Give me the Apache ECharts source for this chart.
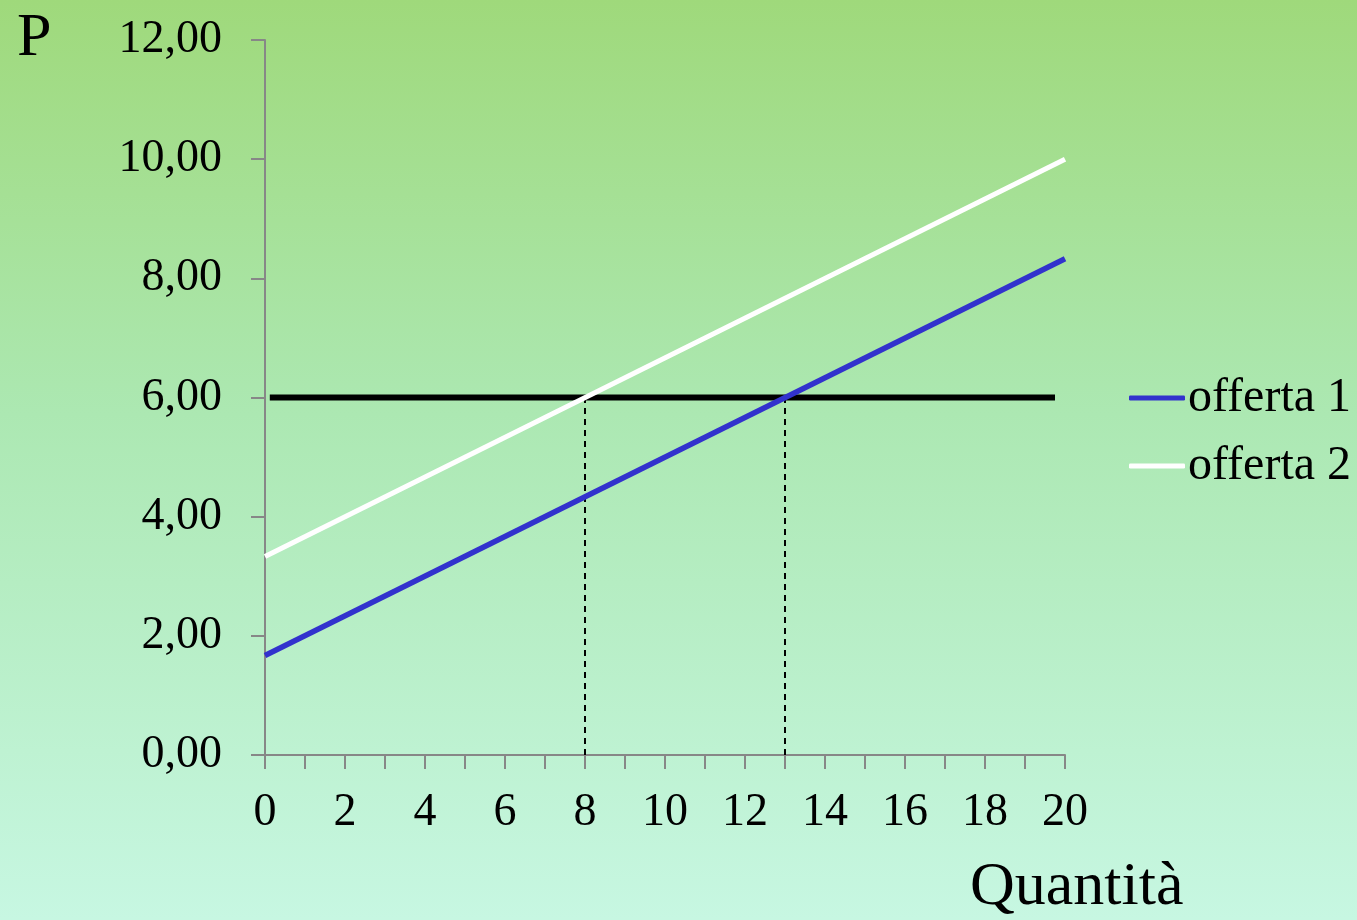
<!DOCTYPE html>
<html>
<head>
<meta charset="utf-8">
<script src="https://cdn.jsdelivr.net/npm/echarts@6/dist/echarts.min.js"></script>
<style>
  html, body { margin: 0; padding: 0; }
  #chart { width: 1357px; height: 920px; }
</style>
</head>
<body>
<div id="chart"></div>
<script>
// Supply curves: price P as a function of quantity
const offerta1 = [[0, 1.67], [20, 8.33]];
const offerta2 = [[0, 3.33], [20, 10]];
// Fixed market price
const prezzo = [[0.12, 6], [19.75, 6]];
// Quantities supplied at that price
const quantitaOfferta = [8, 13];
const prezzoFisso = 6;
const seriesNames = ['offerta 1', 'offerta 2'];
const yAxisTitle = 'P';
const xAxisTitle = 'Quantità';

const FONT = '"Liberation Serif", "Times New Roman", serif';

const dropLines = quantitaOfferta.map(q => ({
  type: 'line',
  data: [[q, 0], [q, prezzoFisso]],
  symbol: 'none',
  lineStyle: { color: '#000', width: 2, type: [6, 5] },
  z: 3
}));

const chart = echarts.init(document.getElementById('chart'));
chart.setOption({
  animation: false,
  backgroundColor: {
    type: 'linear', x: 0, y: 0, x2: 0, y2: 1,
    colorStops: [
      { offset: 0, color: '#9fd97b' },
      { offset: 0.45, color: '#ace8b2' },
      { offset: 1, color: '#c7f7e2' }
    ]
  },
  grid: { left: 265, right: 292, top: 40, bottom: 165 },
  xAxis: {
    type: 'value', min: 0, max: 20, interval: 1,
    axisLine: { onZero: false, lineStyle: { color: '#878787', width: 2 } },
    axisTick: { show: true, length: 14, lineStyle: { color: '#878787', width: 2 } },
    splitLine: { show: false },
    axisLabel: {
      margin: 35, fontFamily: FONT, fontSize: 46, color: '#000',
      formatter: v => (v % 2 === 0 ? String(v) : '')
    }
  },
  yAxis: {
    type: 'value', min: 0, max: 12, interval: 2,
    axisLine: { show: true, lineStyle: { color: '#878787', width: 2 } },
    axisTick: { show: true, length: 14, lineStyle: { color: '#878787', width: 2 } },
    splitLine: { show: false },
    axisLabel: {
      margin: 43, fontFamily: FONT, fontSize: 46, color: '#000',
      formatter: v => v.toFixed(2).replace('.', ',')
    }
  },
  legend: {
    data: seriesNames,
    orient: 'vertical',
    left: 1129, top: 374, padding: 0,
    itemWidth: 56, itemHeight: 5, itemGap: 20,
    icon: 'roundRect',
    textStyle: { fontFamily: FONT, fontSize: 48, color: '#000', padding: [0, 0, 0, -2] }
  },
  graphic: [
    { type: 'text', left: 17, top: 8, style: { text: yAxisTitle, font: '62px ' + FONT, fill: '#000' } },
    { type: 'text', left: 970, top: 857, style: { text: xAxisTitle, font: '62px ' + FONT, fill: '#000' } }
  ],
  series: [
    {
      name: 'prezzo', type: 'line', data: prezzo, symbol: 'none',
      lineStyle: { color: '#000', width: 6 }, z: 2
    },
    ...dropLines,
    {
      name: seriesNames[0], type: 'line', data: offerta1, symbol: 'none',
      itemStyle: { color: '#3232cd' },
      lineStyle: { color: '#3232cd', width: 5.5 }, z: 4
    },
    {
      name: seriesNames[1], type: 'line', data: offerta2, symbol: 'none',
      itemStyle: { color: '#ffffff' },
      lineStyle: { color: '#ffffff', width: 5 }, z: 4
    }
  ]
});
</script>
</body>
</html>
